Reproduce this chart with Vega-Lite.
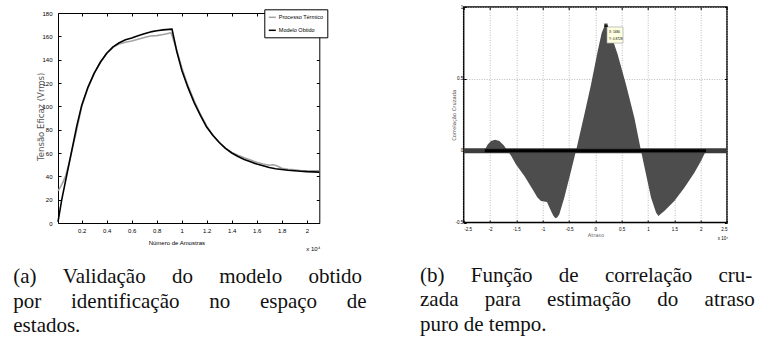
{
  "$schema": "https://vega.github.io/schema/vega-lite/v6.json",
  "background": "white",
  "padding": {"left": 12, "top": 3, "right": 0, "bottom": 0},
  "config": {
    "view": {"stroke": "black", "strokeWidth": 1},
    "axis": {"domain": false, "grid": false, "tickColor": "black", "labelColor": "black", "titleColor": "black", "labelFont": "Liberation Sans", "titleFont": "Liberation Sans", "titleFontWeight": "normal"}
  },
  "bounds": "flush",
  "spacing": 405.7,
  "hconcat": [
    {
      "bounds": "flush",
      "spacing": 5,
      "vconcat": [
        {"width": 261.3, "height": 1, "view": {"stroke": null}, "data": {"values": []}, "mark": "point"},
        {
          "width": 261.3,
          "height": 210,
          "title": {"text": ["(a) \u2003Validação \u2003do \u2003modelo \u2003obtido", "por \u2003\u2006identificação \u2003\u2006no \u2003\u2006espaço \u2003\u2006de", "estados."], "orient": "bottom", "anchor": "start", "frame": "group", "dx": -44.7, "offset": 14, "font": "Liberation Serif", "fontSize": 21, "fontWeight": "normal", "lineHeight": 24.7, "color": "#111111"},
          "data": {"values": [
            {"s": "Processo Térmico", "x": 0.01, "y": 27.5}, {"s": "Processo Térmico", "x": 0.03, "y": 31}, {"s": "Processo Térmico", "x": 0.05, "y": 35}, {"s": "Processo Térmico", "x": 0.07, "y": 40}, {"s": "Processo Térmico", "x": 0.1, "y": 52}, {"s": "Processo Térmico", "x": 0.13, "y": 66}, {"s": "Processo Térmico", "x": 0.16, "y": 80}, {"s": "Processo Térmico", "x": 0.2, "y": 100}, {"s": "Processo Térmico", "x": 0.25, "y": 116}, {"s": "Processo Térmico", "x": 0.3, "y": 128.5}, {"s": "Processo Térmico", "x": 0.35, "y": 138}, {"s": "Processo Térmico", "x": 0.4, "y": 145.5}, {"s": "Processo Térmico", "x": 0.45, "y": 150.5}, {"s": "Processo Térmico", "x": 0.5, "y": 153.5}, {"s": "Processo Térmico", "x": 0.55, "y": 155}, {"s": "Processo Térmico", "x": 0.6, "y": 156}, {"s": "Processo Térmico", "x": 0.65, "y": 157.5}, {"s": "Processo Térmico", "x": 0.7, "y": 159}, {"s": "Processo Térmico", "x": 0.75, "y": 160.3}, {"s": "Processo Térmico", "x": 0.8, "y": 160.6}, {"s": "Processo Térmico", "x": 0.85, "y": 161.5}, {"s": "Processo Térmico", "x": 0.88, "y": 162.2}, {"s": "Processo Térmico", "x": 0.915, "y": 163}, {"s": "Processo Térmico", "x": 0.96, "y": 148}, {"s": "Processo Térmico", "x": 1.0, "y": 133}, {"s": "Processo Térmico", "x": 1.05, "y": 117.5}, {"s": "Processo Térmico", "x": 1.1, "y": 104.5}, {"s": "Processo Térmico", "x": 1.15, "y": 93}, {"s": "Processo Térmico", "x": 1.2, "y": 83}, {"s": "Processo Térmico", "x": 1.25, "y": 75}, {"s": "Processo Térmico", "x": 1.3, "y": 69}, {"s": "Processo Térmico", "x": 1.35, "y": 64}, {"s": "Processo Térmico", "x": 1.4, "y": 60.5}, {"s": "Processo Térmico", "x": 1.45, "y": 58}, {"s": "Processo Térmico", "x": 1.5, "y": 56}, {"s": "Processo Térmico", "x": 1.55, "y": 54}, {"s": "Processo Térmico", "x": 1.6, "y": 52}, {"s": "Processo Térmico", "x": 1.65, "y": 50.5}, {"s": "Processo Térmico", "x": 1.7, "y": 49.5}, {"s": "Processo Térmico", "x": 1.73, "y": 50}, {"s": "Processo Térmico", "x": 1.76, "y": 49}, {"s": "Processo Térmico", "x": 1.8, "y": 47}, {"s": "Processo Térmico", "x": 1.85, "y": 46}, {"s": "Processo Térmico", "x": 1.9, "y": 45.5}, {"s": "Processo Térmico", "x": 1.95, "y": 45}, {"s": "Processo Térmico", "x": 2.0, "y": 44.8}, {"s": "Processo Térmico", "x": 2.05, "y": 44.8}, {"s": "Processo Térmico", "x": 2.1, "y": 44.7},
            {"s": "Modelo Obtido", "x": 0.01, "y": 1}, {"s": "Modelo Obtido", "x": 0.04, "y": 20}, {"s": "Modelo Obtido", "x": 0.08, "y": 41}, {"s": "Modelo Obtido", "x": 0.12, "y": 62}, {"s": "Modelo Obtido", "x": 0.16, "y": 83}, {"s": "Modelo Obtido", "x": 0.2, "y": 101}, {"s": "Modelo Obtido", "x": 0.25, "y": 116.5}, {"s": "Modelo Obtido", "x": 0.3, "y": 128.5}, {"s": "Modelo Obtido", "x": 0.35, "y": 138}, {"s": "Modelo Obtido", "x": 0.4, "y": 145.5}, {"s": "Modelo Obtido", "x": 0.45, "y": 151}, {"s": "Modelo Obtido", "x": 0.5, "y": 154.5}, {"s": "Modelo Obtido", "x": 0.55, "y": 157}, {"s": "Modelo Obtido", "x": 0.6, "y": 158.5}, {"s": "Modelo Obtido", "x": 0.65, "y": 160.5}, {"s": "Modelo Obtido", "x": 0.7, "y": 162.3}, {"s": "Modelo Obtido", "x": 0.75, "y": 163.8}, {"s": "Modelo Obtido", "x": 0.8, "y": 164.8}, {"s": "Modelo Obtido", "x": 0.85, "y": 165.5}, {"s": "Modelo Obtido", "x": 0.922, "y": 166.2}, {"s": "Modelo Obtido", "x": 0.96, "y": 147}, {"s": "Modelo Obtido", "x": 1.0, "y": 131}, {"s": "Modelo Obtido", "x": 1.05, "y": 116}, {"s": "Modelo Obtido", "x": 1.1, "y": 103}, {"s": "Modelo Obtido", "x": 1.15, "y": 92}, {"s": "Modelo Obtido", "x": 1.2, "y": 82}, {"s": "Modelo Obtido", "x": 1.25, "y": 75}, {"s": "Modelo Obtido", "x": 1.3, "y": 69}, {"s": "Modelo Obtido", "x": 1.35, "y": 64}, {"s": "Modelo Obtido", "x": 1.4, "y": 60}, {"s": "Modelo Obtido", "x": 1.45, "y": 57}, {"s": "Modelo Obtido", "x": 1.5, "y": 54.5}, {"s": "Modelo Obtido", "x": 1.55, "y": 52.5}, {"s": "Modelo Obtido", "x": 1.6, "y": 50.5}, {"s": "Modelo Obtido", "x": 1.65, "y": 49}, {"s": "Modelo Obtido", "x": 1.7, "y": 47.5}, {"s": "Modelo Obtido", "x": 1.75, "y": 46.5}, {"s": "Modelo Obtido", "x": 1.8, "y": 45.8}, {"s": "Modelo Obtido", "x": 1.85, "y": 45.2}, {"s": "Modelo Obtido", "x": 1.9, "y": 44.8}, {"s": "Modelo Obtido", "x": 1.95, "y": 44.4}, {"s": "Modelo Obtido", "x": 2.0, "y": 44}, {"s": "Modelo Obtido", "x": 2.05, "y": 43.8}, {"s": "Modelo Obtido", "x": 2.1, "y": 43.6}
          ]},
          "layer": [
            {
              "mark": {"type": "line", "strokeJoin": "round", "strokeWidth": 1.6},
              "encoding": {
                "x": {"field": "x", "type": "quantitative", "scale": {"domain": [0.01, 2.1], "nice": false, "zero": false},
                  "axis": {"values": [0.2, 0.4, 0.6, 0.8, 1, 1.2, 1.4, 1.6, 1.8, 2], "labelExpr": "'' + datum.value", "tickSize": -3, "labelPadding": 7.5, "labelFontSize": 6, "title": "Número de Amostras", "titleFontSize": 6, "titleX": 118.3, "titleY": 19, "titleBaseline": "middle"}},
                "y": {"field": "y", "type": "quantitative", "scale": {"domain": [0, 180], "nice": false},
                  "axis": {"values": [0, 20, 40, 60, 80, 100, 120, 140, 160, 180], "tickSize": -3, "labelPadding": 9, "labelFontSize": 6, "title": "Tensão Eficaz (Vrms)", "titleFont": "DejaVu Sans", "titleFontSize": 8.5, "titleColor": "#555555", "titleX": -17.7, "titleY": 103.3, "titleBaseline": "middle", "titleAlign": "center"}},
                "color": {"field": "s", "type": "nominal", "scale": {"domain": ["Processo Térmico", "Modelo Obtido"], "range": ["#a3a3a3", "#000000"]},
                  "legend": {"title": null, "orient": "none", "legendX": 206.3, "legendY": 2.3, "strokeColor": "black", "fillColor": "white", "padding": 3.5, "symbolType": "stroke", "symbolSize": 49, "symbolStrokeWidth": 1.5, "labelFont": "Liberation Sans", "labelFontSize": 5.5, "labelOffset": 2, "rowPadding": 5, "cornerRadius": 0}}
              }
            },
            {
              "mark": {"type": "line", "opacity": 0},
              "encoding": {
                "x": {"field": "x", "type": "quantitative", "axis": {"orient": "top", "values": [0.2, 0.4, 0.6, 0.8, 1, 1.2, 1.4, 1.6, 1.8, 2], "labels": false, "tickSize": -3, "title": null}},
                "y": {"field": "y", "type": "quantitative", "axis": {"orient": "right", "values": [0, 20, 40, 60, 80, 100, 120, 140, 160, 180], "labels": false, "tickSize": -3, "title": null}}
              }
            },
            {
              "data": {"values": [{"x": 2.1, "y": 0, "t": "x 10⁴"}]},
              "mark": {"type": "text", "font": "Liberation Sans", "fontSize": 6, "dx": -6, "dy": 26, "color": "black"},
              "encoding": {
                "x": {"field": "x", "type": "quantitative", "axis": null},
                "y": {"field": "y", "type": "quantitative", "axis": null},
                "text": {"field": "t"}
              }
            }
          ],
          "resolve": {"axis": {"x": "independent", "y": "independent"}}
        }
      ]
    },
    {
      "width": 263.3,
      "height": 215.6,
      "view": {"stroke": "black", "strokeWidth": 1.5},
      "title": {"text": ["(b) \u2003Função \u2003de \u2003correlação \u2003cru-", "zada \u2003para \u2003estimação \u2003do \u2003atraso", "puro de tempo."], "orient": "bottom", "anchor": "start", "frame": "group", "dx": -43.7, "offset": 24, "font": "Liberation Serif", "fontSize": 21, "fontWeight": "normal", "lineHeight": 24.7, "color": "#111111"},
      "data": {"values": [
        {"x": -2.108, "y": 0}, {"x": -2.044, "y": 0.044}, {"x": -1.981, "y": 0.067}, {"x": -1.905, "y": 0.076}, {"x": -1.823, "y": 0.067}, {"x": -1.74, "y": 0.039}, {"x": -1.665, "y": 0}, {"x": -1.6, "y": -0.035}, {"x": -1.506, "y": -0.095}, {"x": -1.348, "y": -0.176}, {"x": -1.19, "y": -0.269}, {"x": -1.1, "y": -0.325}, {"x": -1.032, "y": -0.35}, {"x": -0.918, "y": -0.356}, {"x": -0.842, "y": -0.419}, {"x": -0.8, "y": -0.45}, {"x": -0.76, "y": -0.47}, {"x": -0.72, "y": -0.462}, {"x": -0.684, "y": -0.442}, {"x": -0.589, "y": -0.326}, {"x": -0.462, "y": -0.141}, {"x": -0.367, "y": 0}, {"x": -0.209, "y": 0.252}, {"x": -0.082, "y": 0.461}, {"x": 0.044, "y": 0.692}, {"x": 0.12, "y": 0.819}, {"x": 0.184, "y": 0.877}, {"x": 0.234, "y": 0.873}, {"x": 0.297, "y": 0.808}, {"x": 0.424, "y": 0.669}, {"x": 0.582, "y": 0.461}, {"x": 0.741, "y": 0.229}, {"x": 0.867, "y": 0}, {"x": 0.962, "y": -0.164}, {"x": 1.057, "y": -0.326}, {"x": 1.152, "y": -0.43}, {"x": 1.196, "y": -0.454}, {"x": 1.31, "y": -0.419}, {"x": 1.5, "y": -0.35}, {"x": 1.69, "y": -0.257}, {"x": 1.88, "y": -0.153}, {"x": 2.006, "y": -0.072}, {"x": 2.1, "y": 0}
      ]},
      "layer": [
        {
          "mark": {"type": "area", "color": "#4d4d4d"},
          "encoding": {
            "x": {"field": "x", "type": "quantitative", "scale": {"domain": [-2.5, 2.5], "nice": false, "zero": false},
              "axis": {"values": [-2.5, -2, -1.5, -1, -0.5, 0, 0.5, 1, 1.5, 2, 2.5], "labelExpr": "datum.value < 0 ? '-' + abs(datum.value) : '' + datum.value", "grid": true, "gridColor": "#aaaaaa", "gridDash": [1, 1.5], "gridWidth": 0.8, "tickSize": -2.5, "labelPadding": 6.5, "labelFontSize": 4.5, "title": "Atraso", "titleFont": "DejaVu Sans", "titleFontSize": 5, "titleColor": "#555555", "titleX": 131.7, "titleY": 11.7, "titleBaseline": "middle"}},
            "y": {"field": "y", "type": "quantitative", "stack": null, "scale": {"domain": [-0.5, 1], "nice": false},
              "axis": {"values": [-0.5, 0, 0.5, 1], "labelExpr": "datum.value < 0 ? '-' + abs(datum.value) : '' + datum.value", "grid": true, "gridColor": "#aaaaaa", "gridDash": [1, 1.5], "gridWidth": 0.8, "tickSize": -2.5, "labelPadding": 3.5, "labelFontSize": 4.5, "title": "Correlação Cruzada", "titleFont": "DejaVu Sans", "titleFontSize": 5.2, "titleColor": "#555555", "titleX": -10.7, "titleY": 107.8, "titleBaseline": "middle", "titleAlign": "center"}}
          }
        },
        {
          "mark": {"type": "line", "opacity": 0},
          "encoding": {
            "x": {"field": "x", "type": "quantitative", "axis": {"orient": "top", "values": [-2.5, -2, -1.5, -1, -0.5, 0, 0.5, 1, 1.5, 2, 2.5], "labels": false, "tickSize": -2.5, "title": null}},
            "y": {"field": "y", "type": "quantitative", "axis": {"orient": "right", "values": [-0.5, 0, 0.5, 1], "labels": false, "tickSize": -2.5, "title": null}}
          }
        },
        {
          "data": {"values": [{"a": -2.5, "b": 2.5, "y": 0}]},
          "mark": {"type": "rule", "color": "#3c3c3c", "strokeWidth": 5},
          "encoding": {
            "x": {"field": "a", "type": "quantitative", "axis": null},
            "x2": {"field": "b"},
            "y": {"field": "y", "type": "quantitative", "axis": null}
          }
        },
        {
          "data": {"values": [{"a": -2.1, "b": 2.1, "y": 0}]},
          "mark": {"type": "rule", "color": "#000000", "strokeWidth": 3},
          "encoding": {
            "x": {"field": "a", "type": "quantitative", "axis": null},
            "x2": {"field": "b"},
            "y": {"field": "y", "type": "quantitative", "axis": null}
          }
        },
        {
          "data": {"values": [{"x1": 0.221, "x2": 0.525, "y1": 0.749, "y2": 0.861}]},
          "mark": {"type": "rect", "fill": "#ffffe1", "stroke": "#999999", "strokeWidth": 0.6},
          "encoding": {
            "x": {"field": "x1", "type": "quantitative", "axis": null},
            "x2": {"field": "x2"},
            "y": {"field": "y1", "type": "quantitative", "axis": null},
            "y2": {"field": "y2"}
          }
        },
        {
          "data": {"values": [{"x": 0.26, "y": 0.83, "t": "X: 1680"}, {"x": 0.26, "y": 0.78, "t": "Y: 0.8728"}]},
          "mark": {"type": "text", "align": "left", "baseline": "middle", "fontSize": 3.2, "font": "Liberation Sans", "color": "black"},
          "encoding": {
            "x": {"field": "x", "type": "quantitative", "axis": null},
            "y": {"field": "y", "type": "quantitative", "axis": null},
            "text": {"field": "t"}
          }
        },
        {
          "data": {"values": [{"x": 0.2, "y": 0.873}]},
          "mark": {"type": "square", "filled": true, "color": "black", "size": 12},
          "encoding": {
            "x": {"field": "x", "type": "quantitative", "axis": null},
            "y": {"field": "y", "type": "quantitative", "axis": null}
          }
        },
        {
          "data": {"values": [{"x": 2.5, "y": -0.5, "t": "x 10⁴"}]},
          "mark": {"type": "text", "font": "Liberation Sans", "fontSize": 4.5, "dx": -4, "dy": 16.5, "color": "black"},
          "encoding": {
            "x": {"field": "x", "type": "quantitative", "axis": null},
            "y": {"field": "y", "type": "quantitative", "axis": null},
            "text": {"field": "t"}
          }
        }
      ],
      "resolve": {"axis": {"x": "independent", "y": "independent"}}
    }
  ]
}
